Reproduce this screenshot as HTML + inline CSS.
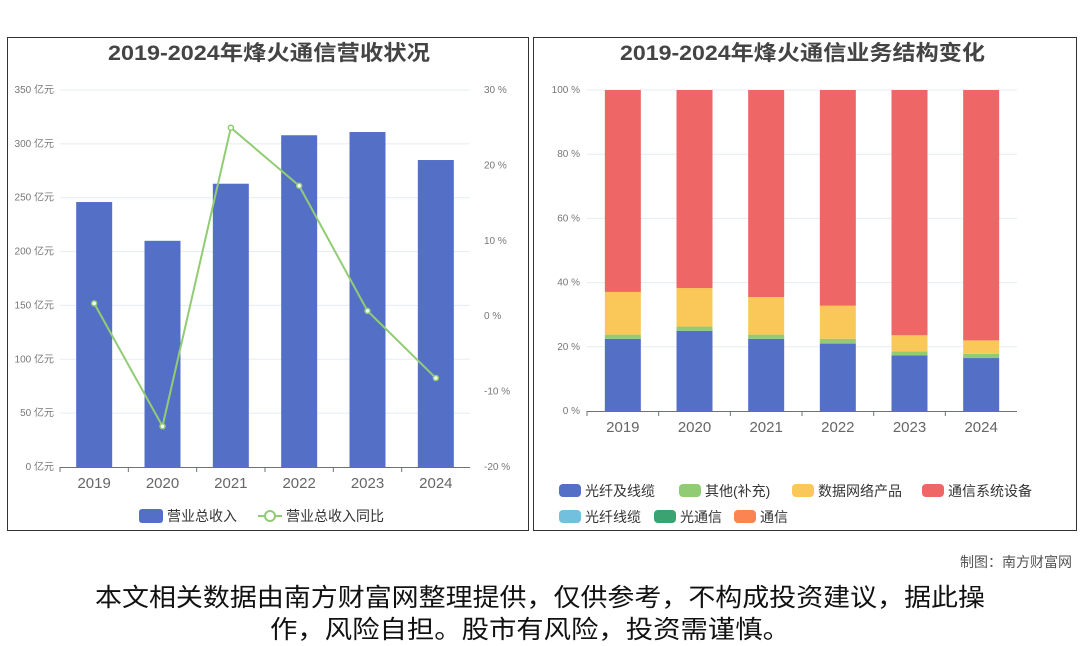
<!DOCTYPE html>
<html><head><meta charset="utf-8">
<style>
body{margin:0;width:1080px;height:646px;background:#fff;font-family:"Liberation Sans","Noto Sans CJK SC",sans-serif;overflow:hidden}
svg{position:absolute;left:0;top:0}
text{font-family:"Liberation Sans","Noto Sans CJK SC",sans-serif}
</style></head><body>
<svg id="c" width="1080" height="646"></svg>
<script>
const years=['2019','2020','2021','2022','2023','2024'];
const revenue=[246,210,263,308,311,285];
const growth=[1.7,-14.6,25,17.3,0.7,-8.2];
const leftTicks=['0 亿元','50 亿元','100 亿元','150 亿元','200 亿元','250 亿元','300 亿元','350 亿元'];
const rightTicks=['-20 %','-10 %','0 %','10 %','20 %','30 %'];
const fiber=[22.5,25,22.5,21,17.3,16.5];
const other=[1.3,1.3,1.3,1.5,1.3,1.3];
const dataNet=[13.3,12,11.7,10.3,5,4.2];
const telecom=[62.9,61.7,64.5,67.2,76.4,78];
const pctTicks=['0 %','20 %','40 %','60 %','80 %','100 %'];

const S=document.getElementById('c');const NS='http://www.w3.org/2000/svg';
function el(t,a,txt){const e=document.createElementNS(NS,t);for(const k in a)e.setAttribute(k,a[k]);if(txt!==undefined)e.textContent=txt;S.appendChild(e);return e;}

let p=el('rect',{x:7.5,y:37.5,width:521,height:493,fill:'none',stroke:'#333'});

p=el('rect',{x:533.5,y:37.5,width:543,height:493,fill:'none',stroke:'#333'});

let t=el('text',{x:108,y:60,'font-size':21,'font-weight':'bold',fill:'#444',textLength:322,lengthAdjust:'spacingAndGlyphs'},'2019-2024年烽火通信营收状况');

t=el('text',{x:620,y:60,'font-size':21,'font-weight':'bold',fill:'#444',textLength:365,lengthAdjust:'spacingAndGlyphs'},'2019-2024年烽火通信业务结构变化');


const L={x0:60,x1:470,y0:467,y1:90};
const yL=v=>L.y0-(v/350)*(L.y0-L.y1);
const yR=v=>L.y0-((v+20)/50)*(L.y0-L.y1);
const cw=(L.x1-L.x0)/years.length;
const cx=i=>L.x0+cw*(i+0.5);
leftTicks.forEach((s,i)=>{const y=yL(i*50);
 if(i>0){const g=el('line',{x1:L.x0,x2:L.x1,y1:y,y2:y,stroke:'#e6ebf5'});}
 const tx=el('text',{x:54,y:y+3,'text-anchor':'end','font-size':10,fill:'#777'},s);});
rightTicks.forEach((s,i)=>{const y=yR(-20+i*10);
 const tx=el('text',{x:484,y:y+3,'font-size':10,fill:'#777'},s);});
revenue.forEach((v,i)=>{const b=el('rect',{x:cx(i)-18,y:yL(v),width:36,height:L.y0-yL(v),fill:'#5470c6'});
 });
let ax=el('line',{x1:L.x0,x2:L.x1,y1:L.y0+.5,y2:L.y0+.5,stroke:'#6e7079'});
years.forEach((y,i)=>{const tk=el('line',{x1:L.x0+cw*i,x2:L.x0+cw*i,y1:L.y0,y2:L.y0+5,stroke:'#6e7079'});
 const tx=el('text',{x:cx(i),y:488,'text-anchor':'middle','font-size':15,fill:'#666'},y);});
const ln=el('polyline',{points:growth.map((g,i)=>cx(i)+','+yR(g)).join(' '),fill:'none',stroke:'#91cc75','stroke-width':2});

growth.forEach((g,i)=>{const c=el('circle',{cx:cx(i),cy:yR(g),r:2.5,fill:'#fff',stroke:'#91cc75','stroke-width':1.5});});
let lg=el('rect',{x:139,y:509,width:24,height:14,rx:3,fill:'#5470c6'});
t=el('text',{x:167,y:521,'font-size':14,fill:'#333'},'营业总收入');
lg=el('line',{x1:258,x2:282,y1:516,y2:516,stroke:'#91cc75','stroke-width':2});
lg=el('circle',{cx:270,cy:516,r:5,fill:'#fff',stroke:'#91cc75','stroke-width':2});
t=el('text',{x:286,y:521,'font-size':14,fill:'#333'},'营业总收入同比');

const R={x0:587,x1:1017,y0:411,y1:90};
const yP=v=>R.y0-(v/100)*(R.y0-R.y1);
const rw=(R.x1-R.x0)/years.length;
const rx=i=>R.x0+rw*(i+0.5);
pctTicks.forEach((s,i)=>{const y=yP(i*20);
 if(i>0){const g=el('line',{x1:R.x0,x2:R.x1,y1:y,y2:y,stroke:'#e6ebf5'});}
 const tx=el('text',{x:580,y:y+3,'text-anchor':'end','font-size':10,fill:'#777'},s);});
const series=[[fiber,'#5470c6','fiber'],[other,'#91cc75','other'],[dataNet,'#fac858','data-network'],[telecom,'#ee6666','telecom-equipment']];
years.forEach((y,i)=>{let acc=0;series.forEach(([arr,col,nm])=>{const v=arr[i];
 const b=el('rect',{x:rx(i)-18,y:yP(Math.min(100,acc+v)),width:36,height:yP(acc)-yP(Math.min(100,acc+v)),fill:col});
 acc+=v;});});
ax=el('line',{x1:R.x0,x2:R.x1,y1:R.y0+.5,y2:R.y0+.5,stroke:'#6e7079'});
years.forEach((y,i)=>{const tk=el('line',{x1:R.x0+rw*i,x2:R.x0+rw*i,y1:R.y0,y2:R.y0+5,stroke:'#6e7079'});
 const tx=el('text',{x:rx(i),y:432,'text-anchor':'middle','font-size':15,fill:'#666'},y);});
const leg=[['光纤及线缆','#5470c6',559,491],['其他(补充)','#91cc75',679,491],['数据网络产品','#fac858',792,491],['通信系统设备','#ee6666',922,491],['光纤线缆','#73c0de',559,517],['光通信','#3ba272',654,517],['通信','#fc8452',734,517]];
leg.forEach(([n,c,x,y])=>{const r=el('rect',{x:x,y:y-7,width:22,height:13,rx:4,fill:c});
 const tx=el('text',{x:x+26,y:y+5,'font-size':14,fill:'#333'},n);});

t=el('text',{x:1072,y:567,'text-anchor':'end','font-size':14,fill:'#555'},'制图：南方财富网');
t=el('text',{x:95,y:606,'font-size':25,fill:'#111',textLength:890,lengthAdjust:'spacingAndGlyphs'},'本文相关数据由南方财富网整理提供，仅供参考，不构成投资建议，据此操');
t=el('text',{x:270,y:638,'font-size':25,fill:'#111',textLength:520,lengthAdjust:'spacingAndGlyphs'},'作，风险自担。股市有风险，投资需谨慎。');
</script>
</body></html>
